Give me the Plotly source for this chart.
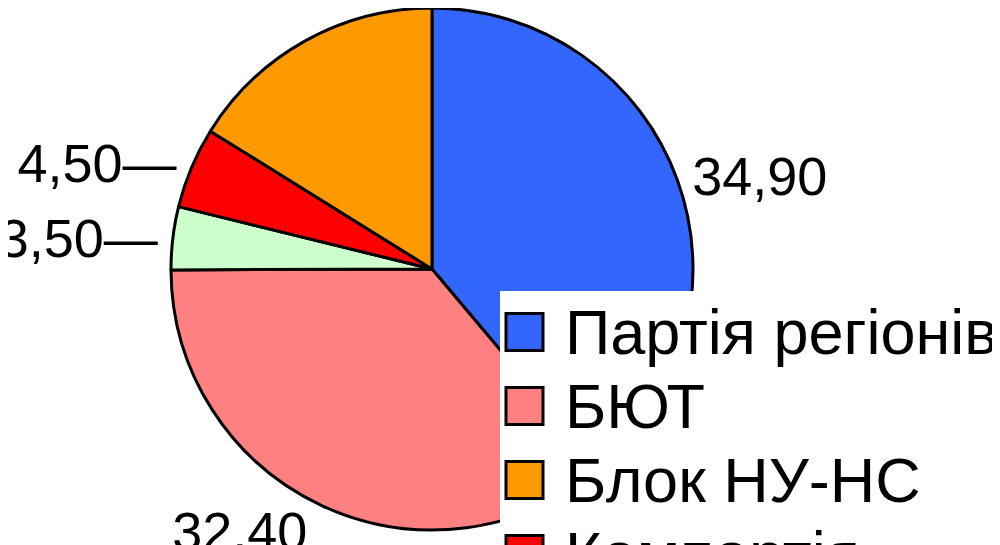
import plotly.graph_objects as go

# parties in legend order
parties = ["Партія регіонів", "БЮТ", "Блок НУ-НС", "Компартія", "Блок Литвина"]
shares = [34.90, 32.40, 14.50, 4.50, 3.50]
colors = ["#3366ff", "#ff8080", "#ff9900", "#ff0000", "#ccffcc"]
# order of the slices clockwise from 12 o'clock
slice_order = [0, 1, 4, 3, 2]
# label style per party: the small slices on the left get a short leader dash,
# the НУ-НС label sits above the visible area in the reference
label_fmt = ["%{value:.2f}", "%{value:.2f}", "", "%{value:.2f}—", "%{value:.2f}—"]

W, H = 1000, 545
FONT = "Liberation Sans, Arial, sans-serif"

fig = go.Figure()

fig.add_trace(go.Pie(
    labels=[parties[i] for i in slice_order],
    values=[shares[i] for i in slice_order],
    marker=dict(colors=[colors[i] for i in slice_order],
                line=dict(color="black", width=3)),
    sort=False,
    direction="clockwise",
    rotation=0,
    texttemplate=[label_fmt[i] for i in slice_order],
    textposition="outside",
    textfont=dict(family=FONT, size=54, color="black"),
    domain=dict(x=[0.163, 0.685], y=[0.0422, 1.0]),
    automargin=False,
    showlegend=False,
    hoverinfo="label+value",
))

# legend drawn by hand (big square swatches with black border)
shapes = [dict(type="rect", xref="paper", yref="paper",
               x0=492 / W, x1=1.0, y0=0.0, y1=(H - 283) / H,
               fillcolor="white", line=dict(width=0), layer="above")]
annotations = []
row_top, row_step, box = 324, 74, 37
for k, name in enumerate(parties):
    yc = row_top + k * row_step
    shapes.append(dict(type="rect", xref="paper", yref="paper",
                       x0=498 / W, x1=(498 + box) / W,
                       y0=(H - yc - box / 2) / H, y1=(H - yc + box / 2) / H,
                       fillcolor=colors[k], line=dict(color="black", width=3),
                       layer="above"))
    annotations.append(dict(x=555 / W, y=(H - yc) / H, xref="paper", yref="paper",
                            text=name, showarrow=False, xanchor="left", yanchor="middle",
                            font=dict(family=FONT, size=63, color="black")))

fig.update_layout(
    width=W, height=H,
    margin=dict(l=0, r=0, t=0, b=0),
    paper_bgcolor="white",
    plot_bgcolor="white",
    separators=", ",
    shapes=shapes,
    annotations=annotations,
)

fig.write_html("out.html")
